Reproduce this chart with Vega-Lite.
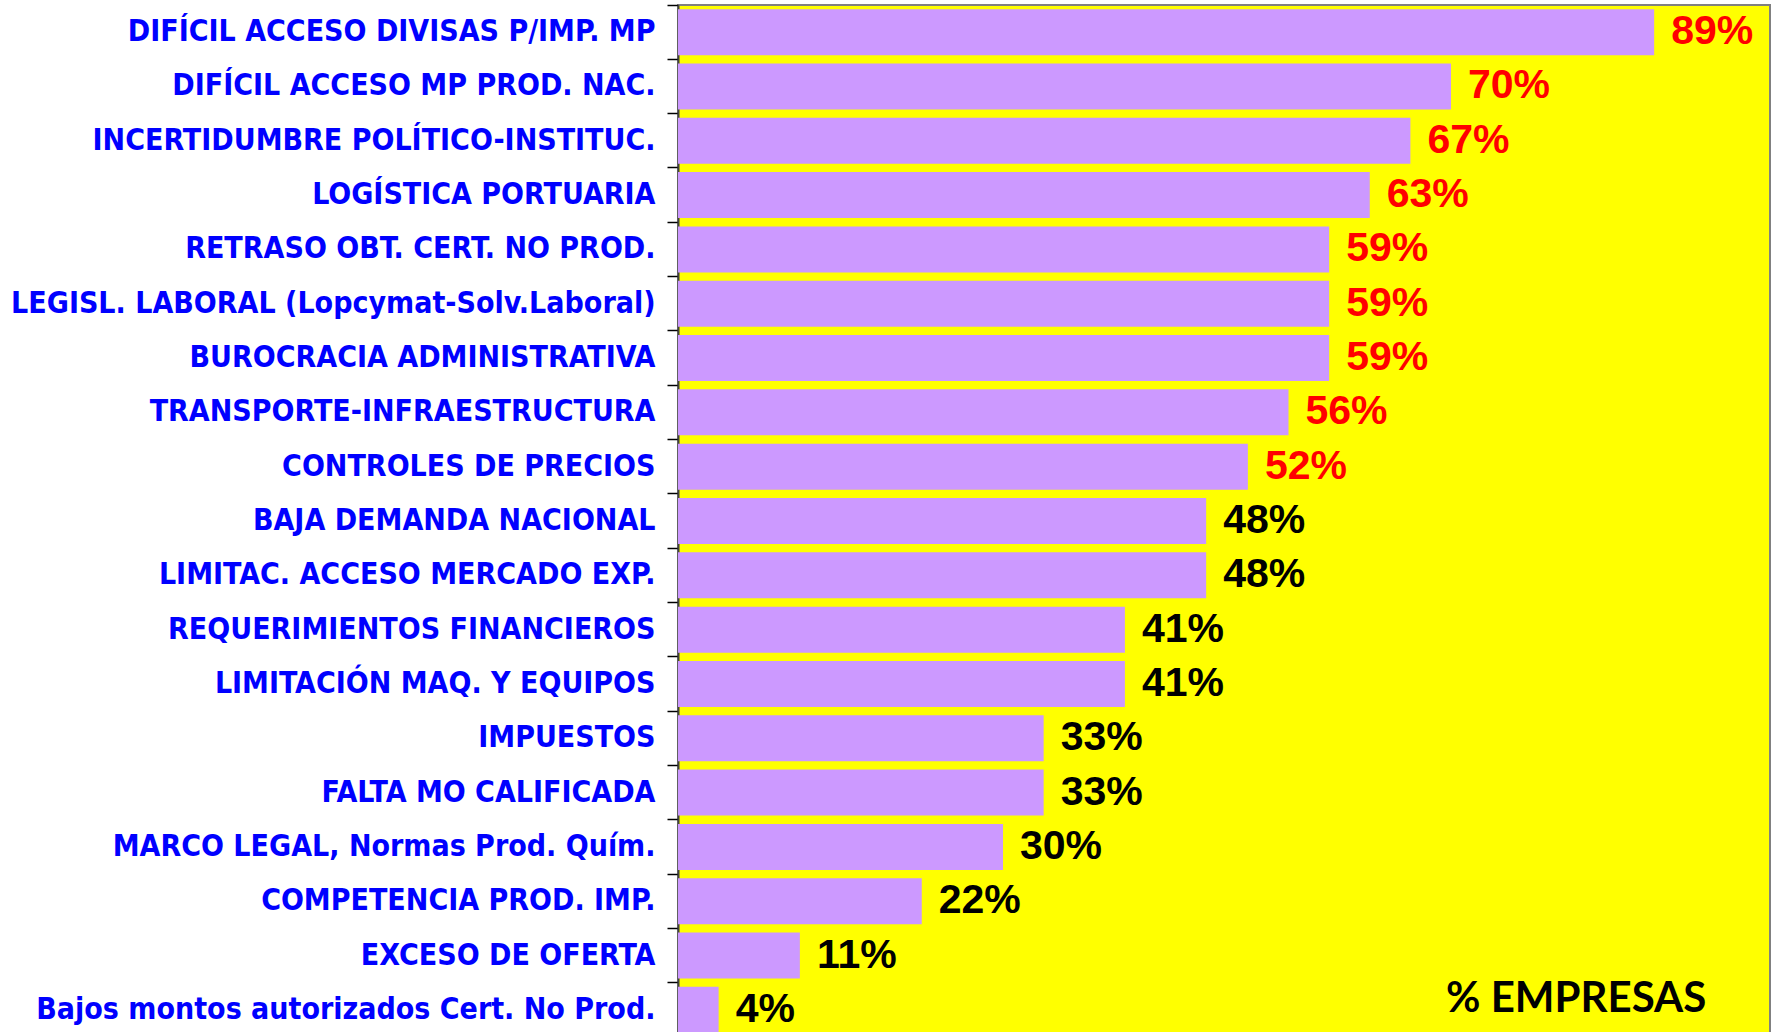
{
  "$schema": "https://vega.github.io/schema/vega-lite/v6.json",
  "width": 1092,
  "height": 1032,
  "autosize": {"type": "none"},
  "padding": {"left": 678, "top": 5, "right": 9, "bottom": -5},
  "background": "#FFFFFF",
  "config": {"view": {"fill": "#FFFF00", "stroke": "#808080", "strokeWidth": 2}},
  "data": {
    "values": [
      {"factor": "DIFÍCIL ACCESO DIVISAS P/IMP. MP", "pct": 0.889},
      {"factor": "DIFÍCIL ACCESO MP PROD. NAC.", "pct": 0.704},
      {"factor": "INCERTIDUMBRE POLÍTICO-INSTITUC.", "pct": 0.667},
      {"factor": "LOGÍSTICA PORTUARIA", "pct": 0.630},
      {"factor": "RETRASO OBT. CERT. NO PROD.", "pct": 0.593},
      {"factor": "LEGISL. LABORAL (Lopcymat-Solv.Laboral)", "pct": 0.593},
      {"factor": "BUROCRACIA ADMINISTRATIVA", "pct": 0.593},
      {"factor": "TRANSPORTE-INFRAESTRUCTURA", "pct": 0.556},
      {"factor": "CONTROLES DE PRECIOS", "pct": 0.519},
      {"factor": "BAJA DEMANDA NACIONAL", "pct": 0.481},
      {"factor": "LIMITAC. ACCESO MERCADO EXP.", "pct": 0.481},
      {"factor": "REQUERIMIENTOS FINANCIEROS", "pct": 0.407},
      {"factor": "LIMITACIÓN MAQ. Y EQUIPOS", "pct": 0.407},
      {"factor": "IMPUESTOS", "pct": 0.333},
      {"factor": "FALTA MO CALIFICADA", "pct": 0.333},
      {"factor": "MARCO LEGAL, Normas Prod. Quím.", "pct": 0.296},
      {"factor": "COMPETENCIA PROD. IMP.", "pct": 0.222},
      {"factor": "EXCESO DE OFERTA", "pct": 0.111},
      {"factor": "Bajos montos autorizados Cert. No Prod.", "pct": 0.037}
    ]
  },
  "encoding": {
    "y": {
      "field": "factor",
      "type": "nominal",
      "sort": null,
      "scale": {"paddingInner": 0, "paddingOuter": 0},
      "axis": {
        "title": null,
        "labelFont": "DejaVu Sans Condensed, Liberation Sans",
        "labelFontWeight": "bold",
        "labelFontSize": 30,
        "labelColor": "#0000FF",
        "labelLimit": 700,
        "labelPadding": 12,
        "tickSize": 11,
        "tickColor": "#000000",
        "tickWidth": 1.5,
        "bandPosition": 0,
        "domainColor": "#404040",
        "domainWidth": 2,
        "grid": false
      }
    }
  },
  "layer": [
    {
      "mark": {"type": "bar", "color": "#CC99FF", "height": {"band": 0.847}},
      "encoding": {
        "x": {"field": "pct", "type": "quantitative", "scale": {"domain": [0, 0.9945], "nice": false}, "axis": null}
      }
    },
    {
      "mark": {"type": "text", "align": "left", "baseline": "middle", "dx": 17, "font": "Liberation Sans", "fontWeight": "bold", "fontSize": 41},
      "encoding": {
        "x": {"field": "pct", "type": "quantitative"},
        "text": {"field": "pct", "format": ".0%"},
        "color": {"condition": {"test": "datum.pct > 0.5", "value": "#FF0000"}, "value": "#000000"}
      }
    },
    {
      "data": {"values": [{"note": "% EMPRESAS"}]},
      "mark": {"type": "text", "align": "center", "baseline": "alphabetic", "dy": 2, "font": "Lato", "fontWeight": "bold", "fontSize": 42, "color": "#000000"},
      "encoding": {
        "x": {"datum": 0.818},
        "y": {"datum": "Bajos montos autorizados Cert. No Prod."},
        "text": {"field": "note"}
      }
    }
  ]
}
